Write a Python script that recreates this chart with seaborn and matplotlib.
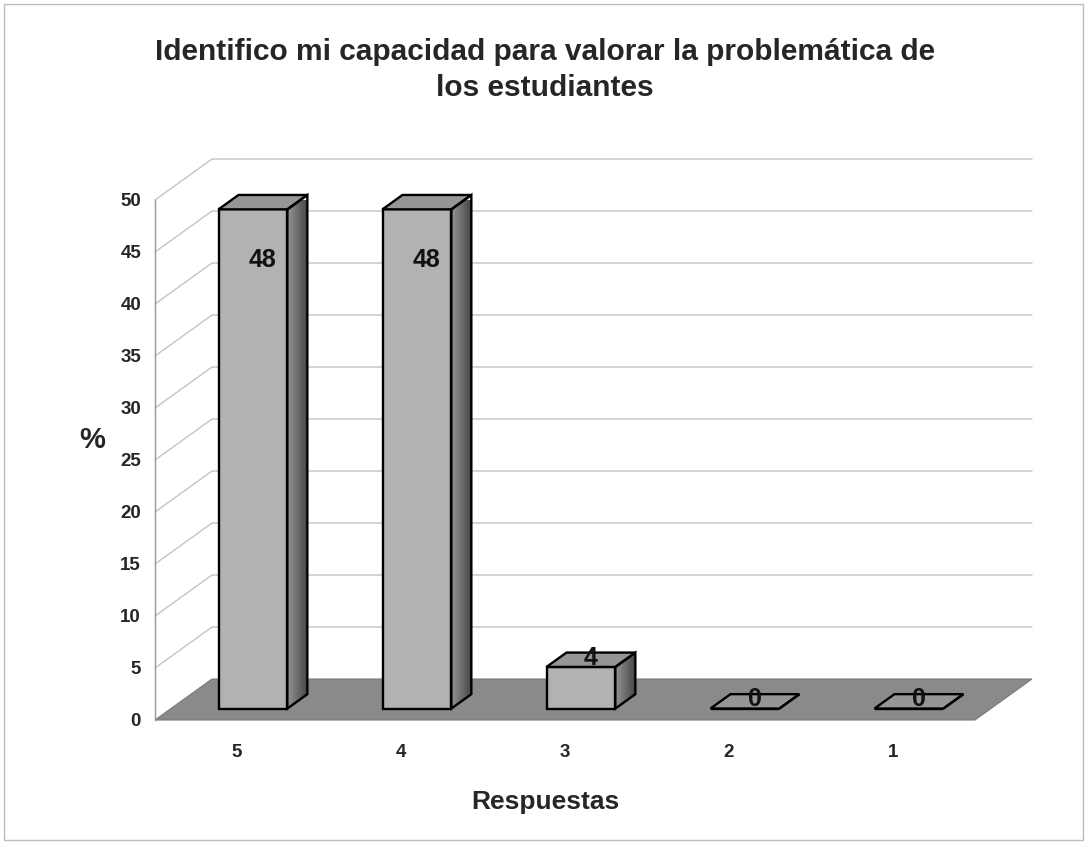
import matplotlib
matplotlib.use("Agg")
import numpy as np
import matplotlib.pyplot as plt
from matplotlib.patches import Polygon, Rectangle
import seaborn as sns
import pandas as pd

# datos del grafico
categories = ['5', '4', '3', '2', '1']
values = [48, 48, 4, 0, 0]
y_ticks = [0, 5, 10, 15, 20, 25, 30, 35, 40, 45, 50]
title = 'Identifico mi capacidad para valorar la problemática de\nlos estudiantes'

sns.set_style('white')
plt.rcParams['font.family'] = ['Liberation Sans', 'DejaVu Sans']

W, H = 1087, 844
fig = plt.figure(figsize=(W / 100, H / 100), dpi=100)
ax = fig.add_axes([155 / W, (H - 720) / H, 820 / W, 520 / H])

df = pd.DataFrame({'Respuestas': categories, 'pct': values})
sns.barplot(data=df, x='Respuestas', y='pct', order=categories, color='#b2b2b2',
            width=0.42, edgecolor='black', linewidth=1.7, ax=ax)
ax.set_xlim(-0.5, 4.5)
ax.set_ylim(0, 50)

# profundidad (efecto 3D) en unidades de datos
Dx, Dy = 57 / 164, 41 * 50 / 520
f1, f2 = 0.28, 0.63

# pared del fondo: lineas de cuadricula
for t in y_ticks[1:]:
    ax.plot([-0.5, -0.5 + Dx, 4.5 + Dx], [t, t + Dy, t + Dy], color='#c4c4c4',
            lw=1, clip_on=False, zorder=1)

# piso
floor = Polygon([(-0.5, 0), (4.5, 0), (4.5 + Dx, Dy), (-0.5 + Dx, Dy)],
                closed=True, facecolor='#8a8a8a', edgecolor='#7a7a7a', lw=0.8,
                clip_on=False, zorder=2)
ax.add_patch(floor)

# degradado para las caras laterales
grad = np.linspace(0.5, 0.78, 32).reshape(1, -1)

# caras de las barras
a, b, c, d = f1 * Dx, f1 * Dy, f2 * Dx, f2 * Dy
for p, v in zip(list(ax.patches[:len(values)]), values):
    x0 = p.get_x()
    x1 = x0 + p.get_width()
    h = p.get_height()
    p.set_x(x0 + a)
    p.set_y(b)
    p.set_zorder(6)
    p.set_clip_on(False)
    top = Polygon([(x0 + a, h + b), (x1 + a, h + b), (x1 + c, h + d), (x0 + c, h + d)],
                  closed=True, facecolor='#969696', edgecolor='black', lw=1.7,
                  clip_on=False, zorder=7)
    side = Polygon([(x1 + a, b), (x1 + c, d), (x1 + c, h + d), (x1 + a, h + b)],
                   closed=True, facecolor='none', edgecolor='black', lw=1.7,
                   clip_on=False, zorder=7)
    ax.add_patch(top)
    ax.add_patch(side)
    if h > 0:
        im = ax.imshow(grad, cmap='Greys', vmin=0, vmax=1, aspect='auto',
                       extent=(x1 + a, x1 + c, b, h + d), zorder=6, clip_on=True)
        im.set_clip_path(side)
    xc = (x0 + x1) / 2 + (a + c) / 2
    yc = h + (b + d) / 2
    off = -58 if h > 10 else 2
    ax.annotate(f'{v:g}', (xc, yc), xytext=(0, off), textcoords='offset pixels',
                ha='center', va='center', fontsize=18, fontweight='bold',
                color='#111111', zorder=8, annotation_clip=False)

ax.set_xlim(-0.5, 4.5)
ax.set_ylim(0, 50)

# ejes
for s in ['top', 'right', 'bottom']:
    ax.spines[s].set_visible(False)
ax.spines['left'].set_color('#9a9a9a')
ax.spines['left'].set_linewidth(1)
ax.set_yticks(y_ticks)
ax.set_yticklabels([str(t) for t in y_ticks], fontsize=13.5, fontweight='bold')
ax.tick_params(axis='y', length=6, color='#9a9a9a', pad=4)
ax.set_xticks(range(len(categories)))
ax.set_xticklabels(categories, fontsize=13.5, fontweight='bold')
ax.tick_params(axis='x', length=0, pad=17)
ax.set_xticks([k - 0.5 for k in range(len(categories) + 1)], minor=True)
ax.tick_params(axis='x', which='minor', length=8, color='#9a9a9a')

ax.set_xlabel('Respuestas', fontsize=19, fontweight='bold')
ax.xaxis.set_label_coords((545 - 155) / 820, (720 - 790) / 520)
ax.set_ylabel('%', fontsize=21, fontweight='bold', rotation=0, va='center', ha='center')
ax.yaxis.set_label_coords((92 - 155) / 820, (720 - 440) / 520)

fig.text(545 / W, 1 - 70 / H, title, ha='center', va='center', fontsize=21.5,
         fontweight='bold', linespacing=1.4)

fig.patches.append(Rectangle((4 / W, 4 / H), 1 - 8 / W, 1 - 8 / H, transform=fig.transFigure,
                             fill=False, edgecolor='#bdbdbd', lw=1))

fig.savefig('out.png', dpi=100)
